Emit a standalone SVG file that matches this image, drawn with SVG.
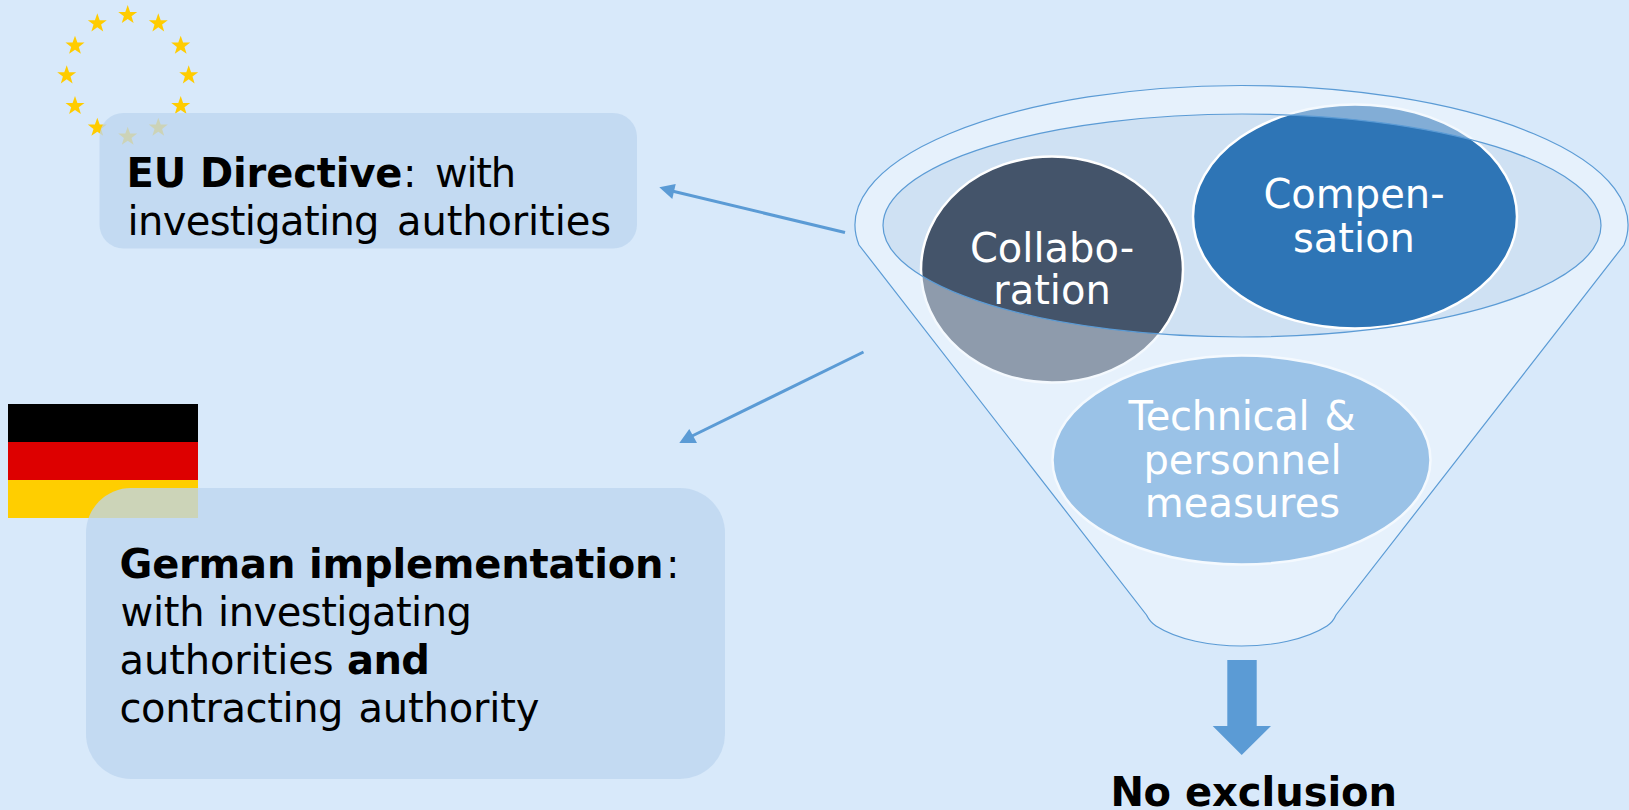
<svg xmlns="http://www.w3.org/2000/svg" width="1629" height="810" viewBox="0 0 1629 810">
<defs>
<style>
text{font-family:"DejaVu Sans",Verdana,sans-serif;font-size:40px;fill:#000}
.w{fill:#fff;text-anchor:middle}
.l{fill:#fff}
.b{font-weight:bold}
.box{fill:#bcd5ef;fill-opacity:.77}
.oval{stroke:#fff;stroke-width:2.5}
.ln{fill:none;stroke:#5b9bd5;stroke-width:1.2}
.conn{fill:none;stroke:#5b9bd5;stroke-width:3}
.hd{fill:#5b9bd5}
.st{fill:#ffcc00}
</style>
<path id="s" d="M0-10 2.4-3.1 9.5-3.1 3.8 1.2 5.9 8.1 0 4 -5.9 8.1 -3.8 1.2 -9.5-3.1 -2.4-3.1Z"/>
</defs>
<rect width="1629" height="810" fill="#d8e9fa"/>
<g id="eu-flag" class="st">
<use href="#s" x="127.7" y="15"/><use href="#s" x="158.3" y="23.3"/><use href="#s" x="180.7" y="45.7"/><use href="#s" x="188.7" y="75.3"/><use href="#s" x="180.7" y="106"/><use href="#s" x="158.3" y="127.7"/><use href="#s" x="127.7" y="136.7"/><use href="#s" x="97.3" y="127.7"/><use href="#s" x="75" y="106"/><use href="#s" x="66.7" y="75.3"/><use href="#s" x="75" y="45.7"/><use href="#s" x="97.3" y="23.3"/>
</g>
<g id="de-flag">
<rect x="8" y="404" width="190" height="38" fill="#000"/>
<rect x="8" y="442" width="190" height="38" fill="#d00"/>
<rect x="8" y="480" width="190" height="38" fill="#ffce00"/>
</g>
<g id="eu-directive">
<rect class="box" x="99.5" y="113" width="537.5" height="135.5" rx="24"/>
<text y="187"><tspan class="b" x="126.5" textLength="276">EU Directive</tspan><tspan x="403">:</tspan> <tspan x="435" textLength="81">with</tspan></text>
<text y="234.5"><tspan x="127.5" textLength="252">investigating</tspan> <tspan x="397" textLength="214">authorities</tspan></text>
</g>
<g id="german-implementation">
<rect class="box" x="86" y="488" width="639" height="291" rx="45"/>
<text y="577.5"><tspan class="b" x="119.5" textLength="544">German implementation</tspan><tspan x="666">:</tspan></text>
<text y="626"><tspan x="120.5" textLength="84">with</tspan> <tspan x="218" textLength="254">investigating</tspan></text>
<text y="674"><tspan x="119.5" textLength="214">authorities</tspan> <tspan class="b" x="347" textLength="83">and</tspan></text>
<text y="722"><tspan x="119.5" textLength="224">contracting</tspan> <tspan x="358.5" textLength="181">authority</tspan></text>
</g>
<g id="funnel">
<path d="M859 245A386.5 139.5 0 1 1 1624 245L1336 615Q1333 622 1327 626C1305 640 1272 646 1241.5 646C1211 646 1178 640 1156 626Q1150 622 1146.5 615Z" fill="#e6f1fc"/>
<ellipse cx="1242" cy="225.5" rx="359" ry="111.5" fill="#cfe1f3"/>
</g>
<g id="collaboration"><ellipse class="oval" cx="1052" cy="269.5" rx="131" ry="113" fill="#44546a"/></g>
<g id="compensation"><ellipse class="oval" cx="1355" cy="216.5" rx="162" ry="112" fill="#2e75b6"/></g>
<g id="technical"><ellipse class="oval" cx="1241.5" cy="460" rx="189" ry="104.5" fill="#5b9bd5"/></g>
<g id="funnel-front">
<path fill-rule="evenodd" fill="#e7f1fc" fill-opacity=".454" d="M859 245A386.5 139.5 0 1 1 1624 245L1336 615Q1333 622 1327 626C1305 640 1272 646 1241.5 646C1211 646 1178 640 1156 626Q1150 622 1146.5 615ZM883 225.5A359 111.5 0 0 0 1601 225.5A359 111.5 0 0 0 883 225.5Z"/>
<path class="ln" d="M859 245A386.5 139.5 0 1 1 1624 245L1336 615Q1333 622 1327 626C1305 640 1272 646 1241.5 646C1211 646 1178 640 1156 626Q1150 622 1146.5 615Z"/>
<ellipse class="ln" cx="1242" cy="225.5" rx="359" ry="111.5"/>
<text class="w" x="1052" y="262">Collabo-</text><text class="w" x="1052" y="304">ration</text>
<text class="w" x="1354" y="208">Compen-</text><text class="w" x="1354" y="252">sation</text>
<text y="430"><tspan class="l" x="1128.5" textLength="181">Technical</tspan> <tspan class="l" x="1324.5" textLength="33">&amp;</tspan></text>
<text class="w" x="1242.5" y="473.5">personnel</text><text class="w" x="1242.5" y="517">measures</text>
</g>
<g id="connectors">
<path class="conn" d="M845 232.5 672 191"/><path class="hd" d="M659.3 187.3 675.7 184 672.3 199Z"/>
<path class="conn" d="M863.5 352 690 437"/><path class="hd" d="M679.3 443 689.3 429 697 443Z"/>
<path class="hd" d="M1227.3 660H1256.7V726H1271L1241.7 755 1212.7 726H1227.3Z"/>
</g>
<g id="no-exclusion"><text class="b" y="806"><tspan x="1110.5" textLength="60.5">No</tspan> <tspan x="1185" textLength="212">exclusion</tspan></text></g>
</svg>
